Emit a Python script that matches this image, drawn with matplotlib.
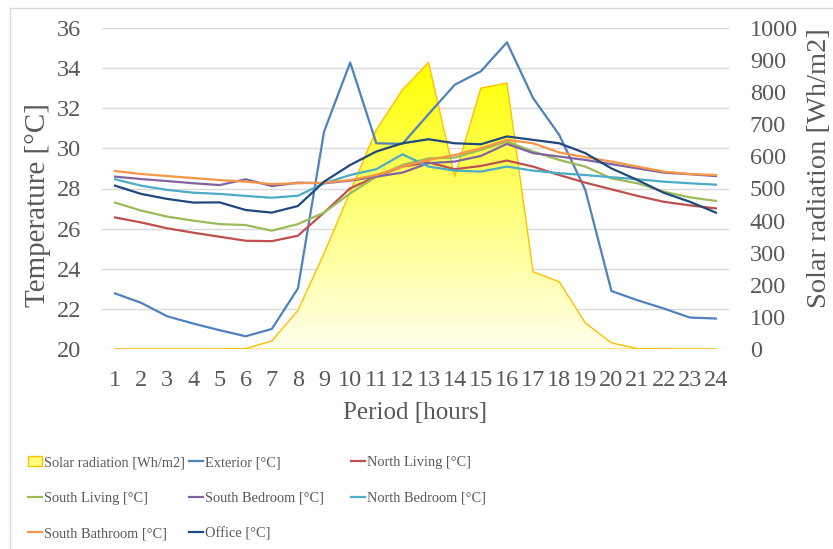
import numpy as np
import matplotlib.pyplot as plt
from matplotlib.lines import Line2D
from matplotlib.patches import Patch, Rectangle

plt.rcParams['font.family'] = ['Liberation Serif', 'DejaVu Serif']

# hourly values
hours = list(range(1, 25))
solar = [0, 0, 0, 0, 0, 2, 26, 121, 298, 490, 682, 807,
         892, 537, 812, 828, 241, 210, 82, 20, 2, 0, 0, 0]
exterior = [22.78, 22.31, 21.64, 21.28, 20.95, 20.65, 21.01, 23.03, 30.83, 34.27, 30.25, 30.22,
            31.70, 33.16, 33.83, 35.27, 32.50, 30.67, 27.93, 22.90, 22.44, 22.03, 21.58, 21.53]
north_living = [26.56, 26.31, 26.02, 25.80, 25.60, 25.40, 25.38, 25.65, 26.80, 28.01, 28.59, 29.09,
                29.30, 28.96, 29.12, 29.39, 29.09, 28.67, 28.29, 27.96, 27.63, 27.34, 27.16, 27.01]
south_living = [27.30, 26.90, 26.60, 26.40, 26.23, 26.18, 25.90, 26.23, 26.80, 27.76, 28.59, 29.17,
                29.50, 29.54, 29.92, 30.34, 29.84, 29.42, 29.09, 28.50, 28.26, 27.84, 27.56, 27.38]
south_bedroom = [28.59, 28.47, 28.37, 28.26, 28.17, 28.46, 28.12, 28.29, 28.26, 28.39, 28.59, 28.79,
                 29.26, 29.34, 29.62, 30.22, 29.76, 29.59, 29.42, 29.21, 29.00, 28.79, 28.71, 28.62]
north_bedroom = [28.46, 28.14, 27.93, 27.79, 27.73, 27.63, 27.54, 27.64, 28.26, 28.67, 28.96, 29.70,
                 29.09, 28.89, 28.84, 29.09, 28.89, 28.76, 28.67, 28.56, 28.46, 28.34, 28.26, 28.19]
south_bathroom = [28.87, 28.72, 28.62, 28.52, 28.42, 28.34, 28.22, 28.26, 28.29, 28.42, 28.67, 29.09,
                  29.42, 29.67, 30.00, 30.42, 30.25, 29.79, 29.56, 29.34, 29.09, 28.84, 28.72, 28.67]
office = [28.14, 27.73, 27.48, 27.30, 27.31, 26.93, 26.80, 27.13, 28.34, 29.17, 29.84, 30.25,
          30.45, 30.25, 30.20, 30.59, 30.42, 30.25, 29.76, 29.00, 28.42, 27.79, 27.34, 26.80]

series = [
    ('Exterior [°C]', exterior, '#4F81BD'),
    ('North Living [°C]', north_living, '#C0504D'),
    ('South Living [°C]', south_living, '#9BBB59'),
    ('South Bedroom [°C]', south_bedroom, '#8064A2'),
    ('North Bedroom [°C]', north_bedroom, '#4BACC6'),
    ('South Bathroom [°C]', south_bathroom, '#F79646'),
    ('Office [°C]', office, '#1F497D'),
]

temp_ticks = list(range(20, 37, 2))
solar_ticks = list(range(0, 1001, 100))

text_col = '#595959'
grid_col = '#D9D9D9'

fig = plt.figure(figsize=(8.33, 5.49), dpi=100)
ax = fig.add_axes([102 / 833, 1 - 349.3 / 549, 627 / 833, 321.6 / 549])
ax2 = ax.twinx()
ax.set_zorder(ax2.get_zorder() + 1)
ax.patch.set_visible(False)

# solar radiation area with a vertical yellow gradient
area = ax2.fill_between(hours, solar, 0, facecolor='none', edgecolor='#FFC000',
                        linewidth=1.0, zorder=3)
grad = np.linspace(0, 1, 256)[:, None]
img = np.zeros((256, 1, 3))
img[..., 0] = 1.0
img[..., 1] = 1.0
img[..., 2] = (grad * 0.93)
im = ax2.imshow(img, extent=[0.5, 24.5, 0, max(solar)], origin='upper',
                aspect='auto', zorder=2, interpolation='bilinear')
im.set_clip_path(area.get_paths()[0], transform=ax2.transData)

# horizontal gridlines follow the temperature scale
for t in temp_ticks:
    ax2.axhline((t - 20) / 16 * 1000, color=grid_col, linewidth=1.0, zorder=1)

ax2.set_ylim(0, 1000)
ax2.set_yticks(solar_ticks)

for name, vals, col in series:
    ax.plot(hours, vals, color=col, linewidth=1.6, label=name)

ax.set_xlim(0.5, 24.5)
ax.set_ylim(20, 36)
ax.set_xticks(hours)
ax.set_yticks(temp_ticks)

for a in (ax, ax2):
    for s in a.spines.values():
        s.set_visible(False)
ax.tick_params(axis='x', length=0, pad=15, labelsize=17.5, labelcolor=text_col)
ax.tick_params(axis='y', length=0, pad=15, labelsize=17.5, labelcolor=text_col)
ax2.tick_params(axis='y', length=0, pad=15, labelsize=17.5, labelcolor=text_col)

ax.set_xlabel('Period [hours]', fontsize=18, color=text_col)
ax.xaxis.set_label_coords(0.5, -0.198)
ax.xaxis.label.set_va('center')
ax.set_ylabel('Temperature [°C]', fontsize=21, color=text_col)
ax.yaxis.set_label_coords(-0.102, 0.449)
ax.yaxis.label.set_va('center')
ax2.set_ylabel('Solar radiation [Wh/m2]', fontsize=20.5, color=text_col)
ax2.yaxis.set_label_coords(1.145, 0.563)
ax2.yaxis.label.set_va('center')

# legend laid out in three columns
solar_handle = Patch(facecolor='#FFFF80', edgecolor='#FFC000', linewidth=1.0)
line_handles = [Line2D([], [], color=c, linewidth=1.6) for _, _, c in series]
names = [n for n, _, _ in series]
columns = [
    ([solar_handle, line_handles[2], line_handles[5]],
     ['Solar radiation [Wh/m2]', names[2], names[5]], 28),
    ([line_handles[0], line_handles[3], line_handles[6]],
     [names[0], names[3], names[6]], 189),
    ([line_handles[1], line_handles[4]], [names[1], names[4]], 351),
]
for handles, labels, x0 in columns:
    leg = fig.legend(handles, labels, loc='upper left',
                     bbox_to_anchor=(x0 / 833, 1 - 456 / 549), frameon=False,
                     fontsize=10.4, handlelength=1.0, handleheight=0.7,
                     handletextpad=0.1, labelspacing=1.55, borderpad=0,
                     borderaxespad=0, labelcolor=text_col)

# chart outer border
fig.patches.append(Rectangle((10 / 833, -0.1), 1.0, 1 - 8 / 549 + 0.1,
                             transform=fig.transFigure, facecolor='none',
                             edgecolor=grid_col, linewidth=1.0))

fig.savefig('out.png', dpi=100)
